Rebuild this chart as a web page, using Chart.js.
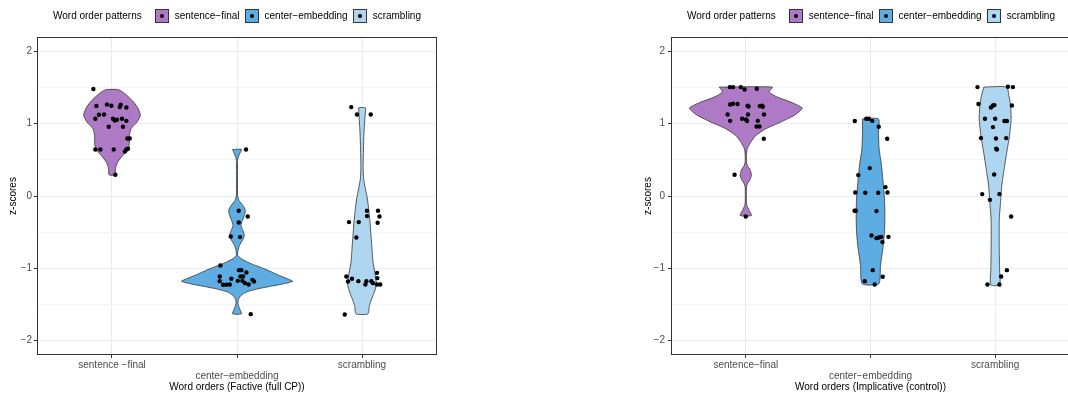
<!DOCTYPE html>
<html>
<head>
<meta charset="utf-8">
<script src="https://cdn.jsdelivr.net/npm/chart.js@4.4.1/dist/chart.umd.min.js"></script>
<style>
  html, body { margin: 0; padding: 0; background: #fff; overflow: hidden; }
  #wrap { position: relative; width: 1068px; height: 398px; overflow: hidden; }
  .panel { position: absolute; top: 0; height: 398px; }
  .legend { position: absolute; top: 8px; width: 400px; height: 15px; display: flex;
            justify-content: center; align-items: center; white-space: nowrap;
            font: 10px "Liberation Sans", Arial, sans-serif; color: #000; }
  .legend .ttl { margin-right: 8px; }
  .legend .key { width: 12px; height: 12px; border: 1px solid #333; position: relative; margin-left: 5px; }
  .legend .key::after { content: ""; position: absolute; left: 4px; top: 4px; width: 4px; height: 4px;
                        border-radius: 50%; background: #000; }
  .legend .lab { margin-left: 6px; }
</style>
</head>
<body>
<div id="wrap">
  <div class="panel" style="left:0;width:534px">
    <canvas id="fact" width="534" height="398"></canvas>
    <div class="legend" id="legFact" style="left:37px"></div>
  </div>
  <div class="panel" style="left:534px;width:540px">
    <canvas id="impl" width="540" height="398"></canvas>
    <div class="legend" id="legImpl" style="left:137px"></div>
  </div>
</div>
<script>
const patterns = ['sentence−final', 'center−embedding', 'scrambling'];
const colors = ['#AF7AC5', '#5DADE2', '#AED6F1'];
const factLabels = ['sentence −final', 'center−embedding', 'scrambling'];
const implLabels = ['sentence−final', 'center−embedding', 'scrambling'];
const yTicks = [-2, -1, 0, 1, 2];
const yGrid = [-2, -1.5, -1, -0.5, 0, 0.5, 1, 1.5, 2];

// Factive (full CP): jittered points (offset from category) and z-scores
const factSfJ = [-0.149, -0.125, -0.04, -0.005, 0.062, 0.07, 0.115, -0.104, -0.064, -0.133, 0.008, 0.022, 0.04, 0.08, 0.115, -0.026, 0.088, 0.123, 0.142, -0.133, -0.093, 0.014, 0.104, 0.115, 0.128, 0.027];
const factSfY = [1.48, 1.245, 1.266, 1.248, 1.23, 1.262, 1.225, 1.124, 1.128, 1.068, 1.068, 1.045, 1.055, 1.068, 1.04, 0.958, 0.958, 0.796, 0.796, 0.644, 0.644, 0.644, 0.616, 0.644, 0.653, 0.293];
const factCeJ = [0.072, 0.014, 0.086, 0.014, -0.05, 0.024, -0.133, 0.016, 0.035, 0.075, -0.138, -0.045, 0.027, 0.048, 0.006, -0.138, 0.123, 0.136, -0.111, -0.085, -0.058, 0.043, 0.064, 0.094, 0.11];
const factCeY = [0.644, -0.205, -0.284, -0.367, -0.56, -0.569, -0.962, -1.026, -1.026, -1.059, -1.114, -1.146, -1.114, -1.114, -1.174, -1.178, -1.16, -1.183, -1.229, -1.229, -1.225, -1.174, -1.206, -1.225, -1.635];
const factScJ = [-0.086, -0.04, 0.07, 0.04, 0.128, 0.04, 0.14, -0.104, -0.026, 0.125, -0.045, -0.125, -0.08, -0.112, -0.029, 0.035, 0.075, 0.027, 0.12, 0.123, 0.088, 0.12, 0.146, -0.138];
const factScY = [1.23, 1.128, 1.128, -0.205, -0.205, -0.278, -0.284, -0.361, -0.361, -0.371, -0.574, -1.114, -1.146, -1.183, -1.178, -1.178, -1.178, -1.225, -1.063, -1.136, -1.206, -1.225, -1.225, -1.64];

// Factive violins: z-score levels and half widths
const factSfVy = [1.474, 1.44, 1.39, 1.30, 1.207, 1.114, 1.023, 0.93, 0.835, 0.743, 0.653, 0.56, 0.467, 0.376, 0.293];
const factSfVw = [0.045, 0.085, 0.12, 0.173, 0.21, 0.227, 0.2, 0.152, 0.139, 0.139, 0.131, 0.085, 0.045, 0.027, 0.024];
const factCeVy = [0.644, 0.584, 0.524, 0.466, 0.236, 0.006, -0.063, -0.133, -0.2, -0.27, -0.34, -0.41, -0.48, -0.547, -0.616, -0.685, -0.755, -0.82, -0.866, -0.915, -0.96, -1.008, -1.054, -1.1, -1.147, -1.18, -1.215, -1.25, -1.285, -1.33, -1.377, -1.432, -1.49, -1.56, -1.63];
const factCeVw = [0.036, 0.021, 0.008, 0.004, 0.004, 0.005, 0.016, 0.048, 0.067, 0.059, 0.043, 0.032, 0.048, 0.059, 0.043, 0.019, 0.008, 0.005, 0.032, 0.085, 0.147, 0.219, 0.28, 0.339, 0.405, 0.445, 0.373, 0.267, 0.165, 0.072, 0.032, 0.011, 0.008, 0.021, 0.035];
const factScVy = [1.221, 1.1, 0.95, 0.792, 0.6, 0.376, 0.238, 0.1, -0.039, -0.177, -0.361, -0.547, -0.73, -0.915, -1.1, -1.215, -1.3, -1.377, -1.516, -1.63];
const factScVw = [0.027, 0.024, 0.018, 0.014, 0.011, 0.009, 0.013, 0.027, 0.043, 0.053, 0.064, 0.072, 0.08, 0.088, 0.107, 0.115, 0.105, 0.088, 0.059, 0.048];

// Implicative (control)
const implSfJ = [-0.128, -0.102, -0.04, -0.01, 0.088, -0.126, -0.102, -0.066, 0.014, 0.022, 0.112, 0.13, 0.136, -0.146, 0.018, 0.146, -0.126, -0.03, 0.002, 0.01, 0.096, 0.086, 0.11, 0.144, -0.09, 0.0];
const implSfY = [1.507, 1.507, 1.507, 1.474, 1.484, 1.266, 1.276, 1.272, 1.248, 1.239, 1.244, 1.248, 1.235, 1.128, 1.128, 1.128, 1.04, 1.068, 1.059, 1.037, 1.04, 0.962, 0.962, 0.792, 0.293, -0.284];
const implCeJ = [-0.126, -0.034, -0.014, 0.014, 0.066, 0.134, -0.006, -0.098, 0.12, 0.136, -0.122, -0.042, 0.062, -0.128, -0.118, 0.048, 0.008, 0.048, 0.066, 0.086, 0.096, 0.144, 0.018, 0.098, -0.046, 0.034];
const implCeY = [1.037, 1.068, 1.068, 1.04, 0.958, 0.792, 0.386, 0.289, 0.123, 0.048, 0.048, 0.044, 0.044, -0.205, -0.205, -0.209, -0.547, -0.583, -0.574, -0.565, -0.638, -0.565, -1.026, -1.118, -1.178, -1.225];
const implScJ = [-0.142, 0.102, 0.142, -0.134, -0.034, -0.018, -0.006, 0.134, -0.082, 0.0, 0.074, 0.094, -0.018, -0.114, 0.006, 0.088, 0.008, 0.014, -0.008, -0.104, 0.034, -0.042, 0.128, 0.094, 0.048, -0.062, 0.034];
const implScY = [1.507, 1.511, 1.507, 1.272, 1.225, 1.253, 1.258, 1.253, 1.068, 1.068, 1.037, 1.037, 0.953, 0.801, 0.796, 0.801, 0.653, 0.644, 0.298, 0.026, 0.026, -0.053, -0.284, -1.026, -1.114, -1.225, -1.225];

const implSfVy = [1.507, 1.438, 1.369, 1.3, 1.253, 1.216, 1.17, 1.114, 1.023, 0.93, 0.837, 0.746, 0.653, 0.56, 0.469, 0.422, 0.36, 0.293, 0.23, 0.169, 0.123, 0.0, -0.085, -0.13, -0.2, -0.27];
const implSfVw = [0.213, 0.187, 0.253, 0.36, 0.42, 0.453, 0.43, 0.387, 0.28, 0.16, 0.08, 0.04, 0.011, 0.005, 0.005, 0.013, 0.035, 0.045, 0.035, 0.013, 0.005, 0.004, 0.005, 0.008, 0.027, 0.045];
const implCeVy = [1.067, 0.884, 0.653, 0.422, 0.192, -0.039, -0.27, -0.5, -0.73, -0.962, -1.215];
const implCeVw = [0.064, 0.064, 0.069, 0.088, 0.101, 0.112, 0.115, 0.112, 0.099, 0.08, 0.067];
const implScVy = [1.507, 1.39, 1.253, 1.068, 0.837, 0.607, 0.376, 0.145, -0.085, -0.316, -0.547, -0.777, -1.008, -1.229];
const implScVw = [0.091, 0.11, 0.123, 0.128, 0.115, 0.093, 0.072, 0.053, 0.043, 0.033, 0.032, 0.033, 0.035, 0.036];

Chart.defaults.font.family = '"Liberation Sans", Arial, sans-serif';

const frame = {
  id: 'frame',
  afterDatasetsDraw(chart) {
    const {ctx, chartArea: a} = chart;
    ctx.save();
    ctx.strokeStyle = '#333';
    ctx.lineWidth = 1;
    ctx.strokeRect(Math.round(a.left) + 0.5, Math.round(a.top) + 0.5,
                   Math.round(a.right - a.left) - 1, Math.round(a.bottom - a.top) - 1);
    ctx.restore();
  }
};

function legend(id) {
  let html = '<span class="ttl">Word order patterns</span>';
  patterns.forEach((p, i) => {
    html += `<span class="key" style="background:${colors[i]}"></span><span class="lab">${p}</span>`;
  });
  document.getElementById(id).innerHTML = html;
}

function panel(id, o) {
  const datasets = [];
  o.violins.forEach((v, i) => {
    const c = i + 1;
    const left = v.y.map((y, k) => ({x: c - v.w[k], y}));
    const right = v.y.map((y, k) => ({x: c + v.w[k], y})).reverse();
    const pts = left.concat(right);
    pts.push(left[0]);
    datasets.push({
      type: 'line', data: pts, backgroundColor: colors[i], borderColor: '#333',
      borderWidth: 0.8, fill: 'shape', tension: 0.2, pointRadius: 0, order: 2
    });
  });
  o.points.forEach((p, i) => {
    datasets.push({
      type: 'scatter', data: p.y.map((y, k) => ({x: i + 1 + p.j[k], y})),
      backgroundColor: '#000', borderWidth: 0, pointRadius: 2.2, order: 1
    });
  });

  new Chart(document.getElementById(id), {
    type: 'scatter',
    data: {datasets},
    options: {
      responsive: false,
      animation: false,
      devicePixelRatio: 1,
      layout: {padding: {left: o.padLeft, right: o.padRight, top: 37, bottom: 0}},
      plugins: {legend: {display: false}, tooltip: {enabled: false}},
      scales: {
        x: {
          type: 'linear', min: 0.4, max: 3.6,
          afterBuildTicks: s => { s.ticks = [1, 2, 3].map(v => ({value: v})); },
          afterFit: s => { s.height = 43; },
          ticks: {
            autoSkip: false, maxRotation: 0, padding: 2, color: '#4d4d4d',
            font: {size: 10, lineHeight: 1.1},
            callback: v => v === 2 ? ['', o.labels[1]] : o.labels[v - 1]
          },
          grid: {color: '#ebebeb', lineWidth: 1, tickLength: 3, tickColor: '#333'},
          border: {display: false},
          title: {display: true, text: o.xTitle, color: '#000', font: {size: 10}, padding: {top: 0, bottom: 5}}
        },
        y: {
          min: -2.2, max: 2.2,
          afterBuildTicks: s => { s.ticks = yGrid.map(v => ({value: v})); },
          afterFit: s => { s.width = 37; },
          ticks: {
            autoSkip: false, padding: o.tickPad, color: '#4d4d4d', font: {size: 10},
            callback: v => yTicks.includes(v) ? (v < 0 ? '−' + (-v) : String(v)) : ''
          },
          grid: {
            color: c => yTicks.includes(c.tick && c.tick.value) ? '#ebebeb' : '#f4f4f4',
            lineWidth: 1, tickLength: 3,
            tickColor: c => yTicks.includes(c.tick && c.tick.value) ? '#333' : 'rgba(0,0,0,0)'
          },
          border: {display: false},
          title: {display: true, text: 'z-scores', color: '#000', font: {size: 10}, padding: {top: o.yTitlePad, bottom: 0}}
        }
      }
    },
    plugins: [frame]
  });
}

panel('fact', {
  padLeft: 0, padRight: 97, tickPad: 2, yTitlePad: 7,
  labels: factLabels, xTitle: 'Word orders (Factive (full CP))',
  violins: [{y: factSfVy, w: factSfVw}, {y: factCeVy, w: factCeVw}, {y: factScVy, w: factScVw}],
  points: [{j: factSfJ, y: factSfY}, {j: factCeJ, y: factCeY}, {j: factScJ, y: factScY}]
});
panel('impl', {
  padLeft: 100, padRight: 3, tickPad: 3, yTitlePad: 8,
  labels: implLabels, xTitle: 'Word orders (Implicative (control))',
  violins: [{y: implSfVy, w: implSfVw}, {y: implCeVy, w: implCeVw}, {y: implScVy, w: implScVw}],
  points: [{j: implSfJ, y: implSfY}, {j: implCeJ, y: implCeY}, {j: implScJ, y: implScY}]
});
legend('legFact');
legend('legImpl');
</script>
</body>
</html>
